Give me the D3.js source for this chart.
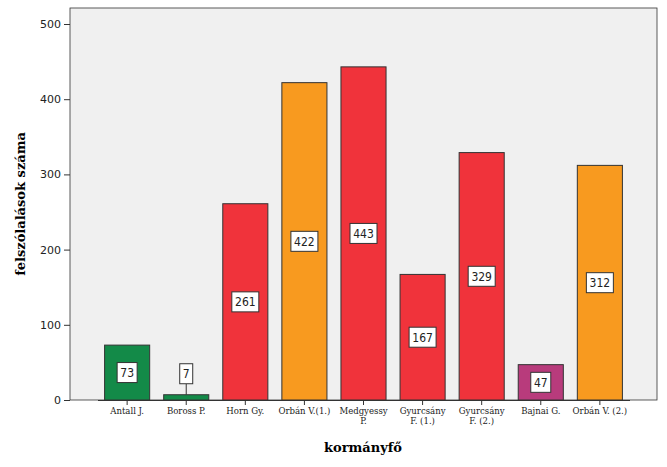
<!DOCTYPE html>
<html>
<head>
<meta charset="utf-8">
<script src="https://cdn.jsdelivr.net/npm/d3@7"></script>
<style>
body { margin: 0; background: #fff; }
</style>
</head>
<body>
<div id="chart"></div>
<script>
var categories = ['Antall J.', 'Boross P.', 'Horn Gy.', 'Orbán V.(1.)', 'Medgyessy P.',
    'Gyurcsány F. (1.)', 'Gyurcsány F. (2.)', 'Bajnai G.', 'Orbán V. (2.)'];
var labelLines = [['Antall J.'], ['Boross P.'], ['Horn Gy.'], ['Orbán V.(1.)'], ['Medgyessy', 'P.'],
    ['Gyurcsány', 'F. (1.)'], ['Gyurcsány', 'F. (2.)'], ['Bajnai G.'], ['Orbán V. (2.)']];
var values = [73, 7, 261, 422, 443, 167, 329, 47, 312];
var party = ['MDF', 'MDF', 'MSZP', 'Fidesz', 'MSZP', 'MSZP', 'MSZP', 'other', 'Fidesz'];
var yTicks = [0, 100, 200, 300, 400, 500];

var colors = { MDF: '#138a48', MSZP: '#f0333b', Fidesz: '#f89a1f', other: '#b83b7c' };

var width = 667, height = 467;
var plotLeft = 70, plotRight = 657, plotTop = 8, plotBottom = 400;

var svg = d3.select('#chart').append('svg')
    .attr('width', width)
    .attr('height', height);

svg.append('rect')
    .attr('x', plotLeft).attr('y', plotTop)
    .attr('width', plotRight - plotLeft).attr('height', plotBottom - plotTop)
    .attr('fill', '#f0f0f0').attr('stroke', '#333').attr('stroke-width', 0.8);

var x_scale = d3.scaleBand()
    .domain(categories)
    .range([97.5, 629.5])
    .paddingInner(0.237)
    .paddingOuter(0.12);

var y_scale = d3.scaleLinear()
    .domain([0, 500])
    .range([plotBottom, 24]);

// bars
svg.selectAll('rect.bar')
    .data(values)
    .enter()
    .append('rect')
    .attr('class', 'bar')
    .attr('x', function (d, i) { return x_scale(categories[i]); })
    .attr('y', function (d) { return y_scale(d); })
    .attr('width', x_scale.bandwidth())
    .attr('height', function (d) { return plotBottom - y_scale(d); })
    .attr('fill', function (d, i) { return colors[party[i]]; })
    .attr('stroke', '#333')
    .attr('stroke-width', 1);

// y axis
var yAxis = svg.append('g')
    .attr('transform', 'translate(' + plotLeft + ',0)')
    .call(d3.axisLeft(y_scale).tickValues(yTicks).tickSize(6).tickSizeOuter(0));
yAxis.select('.domain').remove();
yAxis.selectAll('line').attr('stroke', '#333');
yAxis.selectAll('text').attr('font-family', 'DejaVu Sans').attr('font-size', 11).attr('fill', '#222');

// x axis
var xAxis = svg.append('g')
    .attr('transform', 'translate(0,' + plotBottom + ')')
    .call(d3.axisBottom(x_scale).tickSize(5).tickSizeOuter(0).tickFormat(''));
xAxis.select('.domain').attr('stroke', '#333');
xAxis.selectAll('line').attr('stroke', '#333');

svg.selectAll('text.xlab')
    .data(categories)
    .enter()
    .append('text')
    .attr('class', 'xlab')
    .attr('x', function (d) { return x_scale(d) + x_scale.bandwidth() / 2; })
    .attr('y', 414)
    .attr('text-anchor', 'middle')
    .attr('font-family', 'DejaVu Serif Condensed, DejaVu Serif')
    .attr('font-size', 9.5)
    .attr('fill', '#222')
    .each(function (d, i) {
        var t = d3.select(this);
        labelLines[i].forEach(function (line, j) {
            t.append('tspan').attr('x', t.attr('x')).attr('dy', j ? 10 : 0).text(line);
        });
    });

// value labels
var lab = svg.selectAll('g.vlab')
    .data(values)
    .enter()
    .append('g')
    .attr('class', 'vlab')
    .attr('transform', function (d, i) {
        var cx = x_scale(categories[i]) + x_scale.bandwidth() / 2;
        var cy = d < 30 ? y_scale(d) - 21 : (plotBottom + y_scale(d)) / 2;
        return 'translate(' + cx + ',' + cy + ')';
    });
lab.filter(function (d) { return d < 30; })
    .append('line')
    .attr('x1', 0).attr('x2', 0).attr('y1', 10).attr('y2', 21)
    .attr('stroke', '#333');
lab.append('rect')
    .attr('x', function (d) { return -String(d).length * 3.5 - 3; })
    .attr('y', -10)
    .attr('width', function (d) { return String(d).length * 7 + 6; })
    .attr('height', 20)
    .attr('fill', '#fff').attr('stroke', '#333');
lab.append('text')
    .attr('text-anchor', 'middle')
    .attr('dy', '0.36em')
    .attr('font-family', 'DejaVu Sans Condensed, DejaVu Sans')
    .attr('font-size', 12)
    .attr('fill', '#222')
    .text(function (d) { return d; });

// axis titles
svg.append('text')
    .attr('x', 363).attr('y', 452)
    .attr('text-anchor', 'middle')
    .attr('font-family', 'DejaVu Serif')
    .attr('font-weight', 'bold')
    .attr('font-size', 13)
    .text('kormányfő');

svg.append('text')
    .attr('transform', 'translate(25,204) rotate(-90)')
    .attr('text-anchor', 'middle')
    .attr('font-family', 'DejaVu Serif')
    .attr('font-weight', 'bold')
    .attr('font-size', 13)
    .text('felszólalások száma');
</script>
</body>
</html>
